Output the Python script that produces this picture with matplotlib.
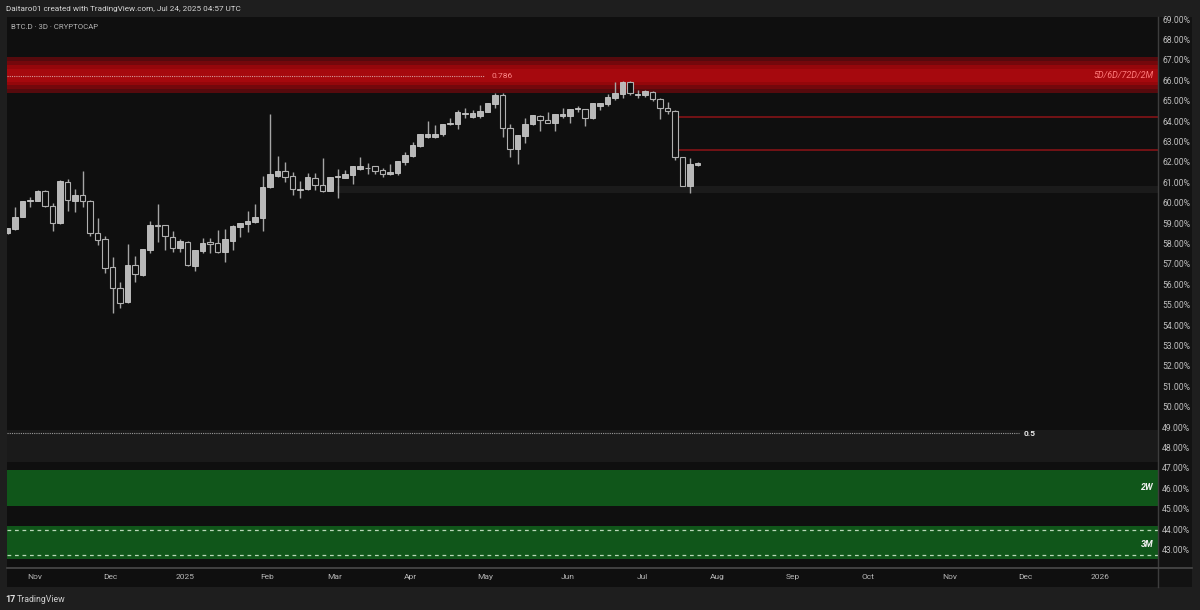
import numpy as np
import pandas as pd
import matplotlib
matplotlib.use("Agg")
import matplotlib.pyplot as plt
import matplotlib.dates as mdates
from matplotlib.patches import Rectangle
from matplotlib.lines import Line2D

plt.rcParams['font.family'] = ['Roboto', 'DejaVu Sans']

# ---- data (BTC.D, 3D candles) ----
first_bar = '2024-10-22'
opens = [58.50, 58.70, 59.31, 60.08, 60.10, 60.57, 59.85, 58.98, 61.03, 60.10,
         60.37, 60.10, 58.52, 58.20, 56.83, 55.80, 55.11, 56.94, 56.45, 57.68,
         58.88, 58.90, 58.33, 57.79, 58.08, 56.89, 57.64, 58.08, 58.00, 57.60,
         58.13, 58.79, 58.95, 59.03, 59.23, 60.75, 61.32, 61.57, 61.30, 60.62,
         60.65, 61.22, 60.86, 60.58, 61.25, 61.22, 61.35, 61.63, 61.72, 61.79,
         61.60, 61.39, 61.44, 61.98, 62.28, 62.79, 63.23, 63.20, 63.35, 63.85,
         63.84, 64.36, 64.21, 64.25, 64.46, 64.83, 65.27, 63.64, 62.61, 63.28,
         63.84, 64.26, 64.05, 63.89, 64.25, 64.26, 64.60, 64.57, 64.13, 64.75,
         64.82, 65.11, 65.31, 65.90, 65.30, 65.27, 65.44, 65.06, 64.62, 64.50,
         62.22, 60.83, 61.86]
highs = [58.78, 59.77, 60.10, 60.30, 60.60, 60.60, 60.00, 61.10, 61.15, 60.65,
         61.55, 60.12, 59.27, 58.38, 57.32, 56.09, 57.97, 57.38, 57.72, 59.10,
         59.93, 58.92, 58.62, 58.20, 58.10, 57.70, 58.25, 58.25, 58.66, 58.71,
         58.88, 59.00, 59.60, 59.92, 61.30, 64.33, 62.28, 61.98, 61.52, 61.06,
         61.43, 61.43, 62.17, 61.25, 61.65, 61.60, 61.80, 62.25, 61.93, 61.82,
         61.72, 61.88, 62.05, 62.50, 62.99, 63.37, 64.00, 63.80, 63.86, 64.13,
         64.54, 64.62, 64.54, 64.78, 64.90, 65.36, 65.36, 63.84, 63.32, 64.13,
         64.30, 64.30, 64.43, 64.35, 64.62, 64.60, 64.75, 64.60, 64.90, 64.90,
         65.31, 65.93, 65.96, 65.96, 65.52, 65.52, 65.46, 65.11, 64.95, 64.52,
         62.25, 62.20, 62.00]
lows = [58.45, 58.65, 59.28, 59.80, 60.08, 59.80, 58.60, 58.95, 59.60, 59.55,
        59.80, 58.35, 57.92, 56.53, 54.60, 54.82, 55.10, 56.12, 56.40, 57.54,
        58.08, 57.68, 57.60, 57.60, 56.90, 56.66, 57.54, 57.52, 57.52, 57.10,
        57.68, 58.30, 58.57, 58.98, 58.60, 60.70, 61.27, 61.00, 60.37, 60.21,
        60.60, 60.62, 60.54, 60.55, 60.24, 61.20, 60.90, 61.60, 61.39, 61.39,
        61.28, 61.37, 61.35, 61.84, 62.25, 62.71, 63.18, 63.15, 63.28, 63.80,
        63.60, 64.13, 64.13, 64.13, 64.45, 64.62, 63.23, 62.25, 61.89, 62.90,
        63.80, 63.51, 63.88, 63.51, 64.13, 63.89, 64.46, 63.77, 64.10, 64.54,
        64.75, 65.03, 65.11, 65.26, 65.11, 65.20, 65.00, 64.10, 64.33, 62.10,
        60.80, 60.46, 61.82]
closes = [58.75, 59.31, 60.08, 60.12, 60.57, 59.85, 58.98, 61.06, 60.13, 60.37,
          60.10, 58.50, 58.17, 56.78, 55.80, 55.09, 56.94, 56.50, 57.71, 58.90,
          58.85, 58.36, 57.76, 58.12, 56.94, 57.68, 58.04, 57.97, 57.60, 58.20,
          58.87, 58.98, 59.10, 59.28, 60.78, 61.39, 61.57, 61.27, 60.65, 60.66,
          61.24, 60.86, 60.57, 61.24, 61.29, 61.39, 61.79, 61.79, 61.68, 61.55,
          61.39, 61.49, 62.03, 62.33, 62.82, 63.35, 63.35, 63.35, 63.84, 63.88,
          64.46, 64.40, 64.38, 64.50, 64.87, 65.27, 63.64, 62.61, 63.31, 63.84,
          64.29, 64.05, 63.89, 64.33, 64.34, 64.57, 64.63, 64.13, 64.87, 64.87,
          65.16, 65.36, 65.93, 65.36, 65.34, 65.47, 65.06, 64.62, 64.49, 62.22,
          60.83, 61.88, 61.92]

# horizontal levels (%)
red_zone = (65.39, 67.12)
red_core = (65.76, 66.75)
fib_786 = 66.22
res_lines = [64.21, 62.58]
support_band = (60.46, 60.81)
fib_50 = 48.69
grey_zone = (47.28, 48.85)
zone_2w = (45.14, 46.89)
zone_3m = (42.52, 44.14)
zone_3m_dashes = [43.95, 42.75]

tick_dates = ['2024-11-02', '2024-12-02', '2025-01-01', '2025-02-03', '2025-03-02',
              '2025-04-01', '2025-05-01', '2025-06-03', '2025-07-03', '2025-08-02',
              '2025-09-01', '2025-10-01', '2025-11-03', '2025-12-03', '2026-01-02']
tick_labels = ['Nov', 'Dec', '2025', 'Feb', 'Mar', 'Apr', 'May', 'Jun', 'Jul',
               'Aug', 'Sep', 'Oct', 'Nov', 'Dec', '2026']
price_ticks = list(range(43, 70))

# ---- figure ----
W, H = 1200, 610
fig = plt.figure(figsize=(W / 100, H / 100), dpi=100, facecolor='#1e1e1e')

def fx(x):
    return x / W

def fy(y):
    return 1 - y / H

bg = '#0f0f0f'
# chart panel incl. price / time scale
fig.patches.append(Rectangle((fx(7), fy(587)), fx(1192) - fx(7), fy(17) - fy(587),
                             transform=fig.transFigure, facecolor=bg, edgecolor='none', zorder=-10))
fig.patches.append(Rectangle((fx(1158), fy(587)), fx(1192) - fx(1158), fy(17) - fy(587),
                             transform=fig.transFigure, facecolor='#121212', edgecolor='none', zorder=-9))

ax = fig.add_axes([fx(7), fy(568), fx(1158) - fx(7), fy(17) - fy(568)], zorder=1)
ax.set_facecolor(bg)
for s in ax.spines.values():
    s.set_visible(False)

fig.lines.append(Line2D([fx(1158), fx(1158)], [fy(17), fy(587)], transform=fig.transFigure,
                        color='#3d3d3d', lw=1, zorder=5))
fig.lines.append(Line2D([fx(7), fx(1192)], [fy(568), fy(568)], transform=fig.transFigure,
                        color='#4a4a4a', lw=1.2, zorder=5))

dates = pd.date_range(first_bar, periods=len(opens), freq='3D')
xd = mdates.date2num(dates)
x0 = mdates.date2num(pd.Timestamp('2024-11-01'))
xmin, xmax = x0 - 10.2, x0 + 450.2
ax.set_xlim(xmin, xmax)
ax.set_ylim(42.09, 69.1)

# zones
ax.axhspan(*red_zone, color='#560a0d', lw=0, zorder=1)
ax.axhspan(65.55, 66.95, color='#74080c', lw=0, zorder=1)
ax.axhspan(*red_core, color='#95070b', lw=0, zorder=1)
ax.axhspan(65.93, 66.55, color='#a6090e', lw=0, zorder=1)
ax.plot([xmin, x0 + 180.6], [fib_786, fib_786], color='#d89a9a', lw=0.8, ls=(0, (1, 1)), zorder=2)
ax.text(x0 + 183.5, fib_786, '0.786', color='#ff8a8a', fontsize=6, va='center', ha='left', zorder=3)
ax.text(x0 + 448.5, 66.25, '5D/6D/72D/2M', color='#ff7a7a', fontsize=6.5, style='italic',
        va='center', ha='right', zorder=3)

for lv in res_lines:
    ax.plot([x0 + 257.8, xmax], [lv, lv], color='#8e1418', lw=1.1, zorder=2)

ax.fill_between([x0 + 121.8, xmax], support_band[0], support_band[1], color='#1b1b1b', lw=0, zorder=1)

ax.axhspan(*grey_zone, color='#1a1a1a', lw=0, zorder=1)
ax.plot([xmin, x0 + 394.6], [fib_50, fib_50], color='#9a9a9a', lw=0.8, ls=(0, (1, 1)), zorder=2)
ax.text(x0 + 396.6, fib_50, '0.5', color='#e8e8e8', fontsize=6, weight='bold',
        va='center', ha='left', zorder=3)

ax.axhspan(*zone_2w, color='#10561a', lw=0, zorder=1)
ax.text(x0 + 448.5, 46.03, '2W', color='#f0f0f0', fontsize=6.5, style='italic', weight='bold',
        va='center', ha='right', zorder=3)
ax.axhspan(*zone_3m, color='#10561a', lw=0, zorder=1)
for lv in zone_3m_dashes:
    ax.axhline(lv, color='#b8d8b8', lw=0.9, ls=(0, (3, 3)), zorder=2)
ax.text(x0 + 448.5, 43.26, '3M', color='#f0f0f0', fontsize=6.5, style='italic', weight='bold',
        va='center', ha='right', zorder=3)

# candles
o = np.array(opens); h = np.array(highs); l = np.array(lows); c = np.array(closes)
up = c >= o
ax.vlines(xd, l, h, color='#a5a5a5', lw=1, zorder=4)
bottoms = np.minimum(o, c)
heights = np.maximum(np.abs(c - o), 0.04)
ax.bar(xd[up], heights[up], bottom=bottoms[up], width=2.2, color='#b8b8b8',
       edgecolor='#c8c8c8', lw=0.6, zorder=5)
ax.bar(xd[~up], heights[~up], bottom=bottoms[~up], width=2.2, color=bg,
       edgecolor='#b0b0b0', lw=0.8, zorder=5)

# axes ticks
ax.set_xticks(mdates.date2num(pd.to_datetime(tick_dates)))
ax.set_xticklabels(tick_labels)
ax.yaxis.tick_right()
ax.set_yticks(price_ticks)
ax.set_yticklabels([f'{v:.2f}%' for v in price_ticks])
ax.tick_params(axis='x', length=0, pad=4, labelsize=6, colors='#b8b8b8')
ax.tick_params(axis='y', length=0, pad=3, labelsize=6.2, colors='#c0c0c0')

# header / footer texts
fig.text(fx(6), fy(9), 'Daitaro01 created with TradingView.com, Jul 24, 2025 04:57 UTC',
         color='#d6d6d6', fontsize=5.9, va='center', ha='left')
fig.text(fx(11), fy(27), 'BTC.D \u00b7 3D \u00b7 CRYPTOCAP', color='#b5b5b5', fontsize=5.6,
         va='center', ha='left', zorder=6)
fig.text(fx(5), fy(599), '17', color='#e0e0e0', fontsize=6.5, weight='bold', va='center', ha='left')
fig.text(fx(17), fy(599), 'TradingView', color='#d0d0d0', fontsize=6.3, va='center', ha='left')

fig.savefig('out.png', dpi=100, facecolor=fig.get_facecolor())
